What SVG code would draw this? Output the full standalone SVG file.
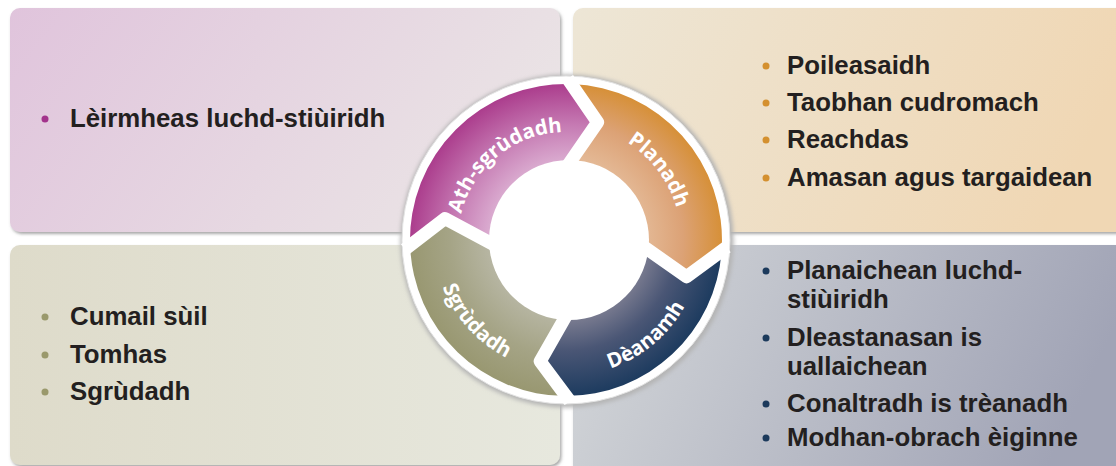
<svg xmlns="http://www.w3.org/2000/svg" width="1116" height="466" viewBox="0 0 1116 466">
<style>
.txt{font-family:"Liberation Sans",Arial,sans-serif;font-weight:bold;font-size:25.8px;fill:#231f20}
.lbl{font-family:"Open Sans","DejaVu Sans",sans-serif;font-weight:bold;font-size:20.5px;fill:#ffffff}
.panel{filter:url(#psh)}
.gap{fill:none;stroke:#ffffff;stroke-width:13;stroke-linejoin:round;stroke-linecap:square}
</style>
<defs>
<filter id="psh" x="-5%" y="-5%" width="110%" height="115%">
<feDropShadow dx="1.5" dy="2" stdDeviation="1.5" flood-color="#6e6e6e" flood-opacity="0.6"/>
</filter>
<filter id="blur" x="-10%" y="-10%" width="120%" height="120%"><feGaussianBlur stdDeviation="2"/></filter>
<linearGradient id="gTL" x1="0" y1="0" x2="1" y2="0.3"><stop offset="0" stop-color="#e0c4dc"/><stop offset="1" stop-color="#eae3e5"/></linearGradient>
<linearGradient id="gTR" x1="0" y1="0" x2="1" y2="0.2"><stop offset="0" stop-color="#ede6d6"/><stop offset="1" stop-color="#f0d7b4"/></linearGradient>
<linearGradient id="gBL" x1="0" y1="0" x2="1" y2="0"><stop offset="0" stop-color="#dedbca"/><stop offset="1" stop-color="#e7e8de"/></linearGradient>
<linearGradient id="gBR" x1="0" y1="0" x2="1" y2="0.2"><stop offset="0" stop-color="#d5d8da"/><stop offset="1" stop-color="#a1a4b6"/></linearGradient>
<radialGradient id="rM" gradientUnits="userSpaceOnUse" cx="566" cy="240" r="158" fx="580" fy="250"><stop offset="0.45" stop-color="#e2bedb"/><stop offset="0.75" stop-color="#c579b2"/><stop offset="1" stop-color="#aa3a8b"/></radialGradient>
<radialGradient id="rO" gradientUnits="userSpaceOnUse" cx="566" cy="240" r="158" fx="560" fy="240"><stop offset="0.45" stop-color="#e6bf9e"/><stop offset="0.75" stop-color="#dca276"/><stop offset="1" stop-color="#d68f35"/></radialGradient>
<radialGradient id="rN" gradientUnits="userSpaceOnUse" cx="566" cy="240" r="158" fx="560" fy="230"><stop offset="0.45" stop-color="#8f8c9c"/><stop offset="0.72" stop-color="#4a5675"/><stop offset="1" stop-color="#1b3a5e"/></radialGradient>
<radialGradient id="rG" gradientUnits="userSpaceOnUse" cx="566" cy="240" r="158" fx="575" fy="230"><stop offset="0.45" stop-color="#bcbbab"/><stop offset="0.75" stop-color="#a5a486"/><stop offset="1" stop-color="#989770"/></radialGradient>
<path id="pAth" d="M463.9,275.2 A108,108 0 0 1 621.6,147.4"/>
<path id="pPlan" d="M532.4,130 A115,115 0 0 1 662.5,302.6"/>
<path id="pDean" d="M498,357.8 A136,136 0 0 0 693.8,193.5"/>
<path id="pSgr" d="M449.5,178 A132,132 0 0 0 615.4,362.4"/>
</defs>
<rect x="0" y="0" width="1116" height="466" fill="#ffffff"/>
<g id="panels">
<g id="panel-tl"><rect class="panel" x="10" y="8" width="550" height="224" rx="10" fill="url(#gTL)"/></g>
<g id="panel-tr"><rect class="panel" x="573" y="8" width="560" height="224" rx="10" fill="url(#gTR)"/></g>
<g id="panel-bl"><rect class="panel" x="10" y="245" width="550" height="220" rx="10" fill="url(#gBL)"/></g>
<g id="panel-br"><rect class="panel" x="573" y="245" width="560" height="230" rx="10" fill="url(#gBR)"/></g>
</g>
<g id="cycle">
<circle cx="567" cy="241" r="166.5" fill="#b4b4b4" filter="url(#blur)"/>
<circle cx="566" cy="240" r="164" fill="#ffffff" stroke="#e4e4e4" stroke-width="1"/>
<g id="seg-planadh"><path d="M571.4,84.1 A156,156 0 0 1 721.6,250.9 L686.5,276.8 L641.8,245.3 A76,76 0 0 0 568.7,164 L597.6,122.2 Z" fill="url(#rO)"/></g>
<g id="seg-deanamh"><path d="M721.6,250.9 A156,156 0 0 1 566,396 L540.2,361.3 L566,316 A76,76 0 0 0 641.8,245.3 L686.5,276.8 Z" fill="url(#rN)"/></g>
<g id="seg-sgrudadh"><path d="M566,396 A156,156 0 0 1 410.1,245.4 L444.9,218.6 L490,242.7 A76,76 0 0 0 566,316 L540.2,361.3 Z" fill="url(#rG)"/></g>
<g id="seg-ath"><path d="M410.1,245.4 A156,156 0 0 1 571.4,84.1 L597.6,122.2 L568.7,164 A76,76 0 0 0 490,242.7 L444.9,218.6 Z" fill="url(#rM)"/></g>
<g id="gaps">
<path class="gap" d="M571.4,84.1 L597.6,122.2 L568.7,164"/>
<path class="gap" d="M721.6,250.9 L686.5,276.8 L641.8,245.3"/>
<path class="gap" d="M566,396 L540.2,361.3 L566,316"/>
<path class="gap" d="M410.1,245.4 L444.9,218.6 L490,242.7"/>
</g>
<circle cx="569" cy="240" r="80" fill="#ffffff"/>
<text class="lbl"><textPath href="#pAth" startOffset="50%" text-anchor="middle">Ath-sgrùdadh</textPath></text>
<text class="lbl"><textPath href="#pPlan" startOffset="50%" text-anchor="middle">Planadh</textPath></text>
<text class="lbl"><textPath href="#pDean" startOffset="50%" text-anchor="middle">Dèanamh</textPath></text>
<text class="lbl"><textPath href="#pSgr" startOffset="50%" text-anchor="middle">Sgrùdadh</textPath></text>
</g>
<g id="text-tl">
<circle cx="45" cy="119" r="3.5" fill="#a3338c"/>
<text class="txt" x="70" y="127">Lèirmheas luchd-stiùiridh</text>
</g>
<g id="text-tr" fill="#d4902f">
<circle cx="766" cy="66" r="3.5"/>
<circle cx="766" cy="103" r="3.5"/>
<circle cx="766" cy="140" r="3.5"/>
<circle cx="766" cy="178" r="3.5"/>
<text class="txt" x="787" y="74">Poileasaidh</text>
<text class="txt" x="787" y="111">Taobhan cudromach</text>
<text class="txt" x="787" y="148">Reachdas</text>
<text class="txt" x="787" y="186">Amasan agus targaidean</text>
</g>
<g id="text-bl" fill="#9a996c">
<circle cx="45" cy="317" r="3.5"/>
<circle cx="45" cy="355" r="3.5"/>
<circle cx="45" cy="392" r="3.5"/>
<text class="txt" x="70" y="325">Cumail sùil</text>
<text class="txt" x="70" y="363">Tomhas</text>
<text class="txt" x="70" y="400">Sgrùdadh</text>
</g>
<g id="text-br" fill="#1c3a5c">
<circle cx="766" cy="271" r="3.5"/>
<circle cx="766" cy="338" r="3.5"/>
<circle cx="766" cy="404" r="3.5"/>
<circle cx="766" cy="438" r="3.5"/>
<text class="txt" x="787" y="279">Planaichean luchd-</text>
<text class="txt" x="787" y="308">stiùiridh</text>
<text class="txt" x="787" y="346">Dleastanasan is</text>
<text class="txt" x="787" y="375">uallaichean</text>
<text class="txt" x="787" y="412">Conaltradh is trèanadh</text>
<text class="txt" x="787" y="446">Modhan-obrach èiginne</text>
</g>
</svg>
